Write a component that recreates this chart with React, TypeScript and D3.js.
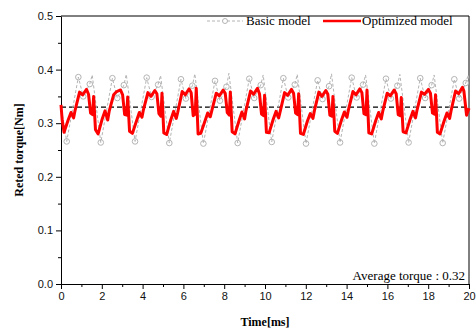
import * as d3 from 'd3';
import * as React from 'react';

// [time ms, torque Nm]
const optimizedModel: [number, number][] = [
  [0.0, 0.334], [0.06, 0.305],
  [0.15, 0.283], [0.35, 0.306], [0.49, 0.32], [0.62, 0.31], [0.69, 0.324], [0.91, 0.358], [1.06, 0.353], [1.25, 0.363], [1.35, 0.354], [1.45, 0.319], [1.55, 0.316], [1.6, 0.35], [1.69, 0.288],
  [1.82, 0.28], [2.02, 0.308], [2.16, 0.323], [2.29, 0.306], [2.36, 0.322], [2.58, 0.353], [2.73, 0.359], [2.92, 0.362], [3.02, 0.353], [3.12, 0.316], [3.22, 0.315], [3.27, 0.349], [3.36, 0.285],
  [3.5, 0.281], [3.7, 0.304], [3.84, 0.32], [3.97, 0.311], [4.04, 0.325], [4.26, 0.357], [4.41, 0.35], [4.6, 0.361], [4.7, 0.355], [4.8, 0.318], [4.9, 0.313], [4.95, 0.356], [5.04, 0.282],
  [5.18, 0.279], [5.38, 0.306], [5.52, 0.322], [5.65, 0.309], [5.72, 0.32], [5.94, 0.359], [6.09, 0.353], [6.28, 0.364], [6.38, 0.357], [6.48, 0.314], [6.58, 0.317], [6.63, 0.365], [6.72, 0.28],
  [6.85, 0.281], [7.05, 0.303], [7.19, 0.319], [7.32, 0.312], [7.39, 0.323], [7.61, 0.356], [7.76, 0.351], [7.95, 0.362], [8.05, 0.356], [8.15, 0.32], [8.25, 0.315], [8.3, 0.358], [8.39, 0.284],
  [8.53, 0.28], [8.73, 0.305], [8.87, 0.321], [9.0, 0.308], [9.07, 0.324], [9.29, 0.36], [9.44, 0.354], [9.63, 0.365], [9.73, 0.355], [9.83, 0.317], [9.93, 0.314], [9.98, 0.352], [10.07, 0.283],
  [10.2, 0.282], [10.4, 0.307], [10.54, 0.322], [10.67, 0.31], [10.74, 0.321], [10.96, 0.357], [11.11, 0.352], [11.3, 0.363], [11.4, 0.356], [11.5, 0.319], [11.6, 0.316], [11.65, 0.355], [11.74, 0.281],
  [11.88, 0.279], [12.08, 0.304], [12.22, 0.318], [12.35, 0.309], [12.42, 0.323], [12.64, 0.358], [12.79, 0.35], [12.98, 0.361], [13.08, 0.354], [13.18, 0.315], [13.28, 0.313], [13.33, 0.35], [13.42, 0.285],
  [13.55, 0.281], [13.75, 0.306], [13.89, 0.321], [14.02, 0.311], [14.09, 0.325], [14.31, 0.359], [14.46, 0.353], [14.65, 0.364], [14.75, 0.357], [14.85, 0.318], [14.95, 0.316], [15.0, 0.362], [15.09, 0.282],
  [15.23, 0.28], [15.43, 0.305], [15.57, 0.32], [15.7, 0.308], [15.77, 0.322], [15.99, 0.356], [16.14, 0.351], [16.33, 0.362], [16.43, 0.355], [16.53, 0.316], [16.63, 0.314], [16.68, 0.348], [16.77, 0.284],
  [16.91, 0.282], [17.11, 0.307], [17.25, 0.322], [17.38, 0.31], [17.45, 0.324], [17.67, 0.358], [17.82, 0.354], [18.01, 0.363], [18.11, 0.356], [18.21, 0.319], [18.31, 0.317], [18.36, 0.353], [18.45, 0.283],
  [18.58, 0.28], [18.78, 0.304], [18.92, 0.319], [19.05, 0.309], [19.12, 0.323], [19.34, 0.36], [19.49, 0.355], [19.68, 0.367], [19.75, 0.36], [19.88, 0.315], [20.0, 0.328],
];

// [time ms, torque Nm, marker]
const basicModel: [number, number, number][] = [
  [0.0, 0.332, 0],
  [0.28, 0.266, 1], [0.85, 0.386, 1], [1.09, 0.35, 1], [1.41, 0.373, 1], [1.53, 0.39, 0],
  [1.95, 0.264, 1], [2.52, 0.384, 1], [2.76, 0.347, 1], [3.08, 0.371, 1], [3.2, 0.391, 0],
  [3.63, 0.266, 1], [4.2, 0.385, 1], [4.44, 0.349, 1], [4.76, 0.372, 1], [4.88, 0.389, 0],
  [5.31, 0.263, 1], [5.88, 0.382, 1], [6.12, 0.346, 1], [6.44, 0.37, 1], [6.56, 0.392, 0],
  [6.98, 0.262, 1], [7.55, 0.379, 1], [7.79, 0.342, 1], [8.11, 0.368, 1], [8.23, 0.393, 0],
  [8.66, 0.263, 1], [9.23, 0.383, 1], [9.47, 0.347, 1], [9.79, 0.371, 1], [9.91, 0.39, 0],
  [10.33, 0.265, 1], [10.9, 0.384, 1], [11.14, 0.348, 1], [11.46, 0.372, 1], [11.58, 0.391, 0],
  [12.01, 0.262, 1], [12.58, 0.38, 1], [12.82, 0.345, 1], [13.14, 0.369, 1], [13.26, 0.392, 0],
  [13.68, 0.264, 1], [14.25, 0.385, 1], [14.49, 0.348, 1], [14.81, 0.372, 1], [14.93, 0.39, 0],
  [15.36, 0.262, 1], [15.93, 0.383, 1], [16.17, 0.346, 1], [16.49, 0.37, 1], [16.61, 0.391, 0],
  [17.04, 0.264, 1], [17.61, 0.384, 1], [17.85, 0.347, 1], [18.17, 0.371, 1], [18.29, 0.39, 0],
  [18.71, 0.263, 1], [19.28, 0.382, 1], [19.52, 0.346, 1], [19.84, 0.375, 1], [19.96, 0.39, 0], [20.0, 0.38, 0],
];

const averageTorque = 0.33;
const averageLabel = 'Average torque : 0.32';
const xTicks = [0, 2, 4, 6, 8, 10, 12, 14, 16, 18, 20];
const yTicks = [0.0, 0.1, 0.2, 0.3, 0.4, 0.5];

const App = () => {
  const ref = React.useRef<SVGSVGElement>(null);

  React.useEffect(() => {
    const W = 476,
      H = 331;
    const margin = { top: 16, right: 7, bottom: 47, left: 61 };
    const width = W - margin.left - margin.right,
      height = H - margin.top - margin.bottom;

    const svg = d3.select(ref.current);
    svg.selectAll('*').remove();
    svg.attr('width', W).attr('height', H);
    svg.append('rect').attr('width', W).attr('height', H).attr('fill', '#fff');

    const g = svg.append('g').attr('transform', `translate(${margin.left},${margin.top})`);

    const x = d3.scaleLinear().domain([0, 20]).range([0, width]);
    const y = d3.scaleLinear().domain([0, 0.5]).range([height, 0]);

    // minor ticks
    g.append('g')
      .attr('transform', `translate(0,${height})`)
      .call(d3.axisBottom(x).tickValues(d3.range(1, 20, 2)).tickSize(3).tickFormat(() => ''))
      .call((a) => a.select('.domain').remove());
    g.append('g')
      .call(d3.axisLeft(y).tickValues(d3.range(0.05, 0.5, 0.1)).tickSize(3).tickFormat(() => ''))
      .call((a) => a.select('.domain').remove());

    const xAxis = g
      .append('g')
      .attr('transform', `translate(0,${height})`)
      .call(d3.axisBottom(x).tickValues(xTicks).tickSize(5).tickSizeOuter(0).tickPadding(3).tickFormat(d3.format('d')));
    xAxis.selectAll('text').style('font-family', 'Liberation Sans, Arial').style('font-size', '11px').attr('fill', '#111');

    const yAxis = g
      .append('g')
      .call(d3.axisLeft(y).tickValues(yTicks).tickSize(5).tickSizeOuter(0).tickPadding(3).tickFormat(d3.format('.1f')));
    yAxis.selectAll('text').style('font-family', 'Liberation Sans, Arial').style('font-size', '11px').attr('fill', '#111');
    g.selectAll('.domain, .tick line').attr('stroke', '#000');

    // frame
    g.append('path')
      .attr('d', `M0,0H${width}V${height}`)
      .attr('fill', 'none')
      .attr('stroke', '#000')
      .attr('stroke-width', 1);

    // average line
    g.append('line')
      .attr('x1', 0)
      .attr('x2', width)
      .attr('y1', y(averageTorque))
      .attr('y2', y(averageTorque))
      .attr('stroke', '#000')
      .attr('stroke-width', 1.2)
      .attr('stroke-dasharray', '5,3');

    const line = d3
      .line<any>()
      .x((d) => x(d[0]))
      .y((d) => y(d[1]));

    g.append('path')
      .datum(basicModel)
      .attr('d', line)
      .attr('fill', 'none')
      .attr('stroke', '#b4b4b4')
      .attr('stroke-width', 1)
      .attr('stroke-dasharray', '3,2');

    g.selectAll('.mk')
      .data(basicModel.filter((d) => d[2] === 1))
      .enter()
      .append('circle')
      .attr('cx', (d) => x(d[0]))
      .attr('cy', (d) => y(d[1]))
      .attr('r', 2.8)
      .attr('fill', 'none')
      .attr('stroke', '#b4b4b4')
      .attr('stroke-width', 1);

    g.append('path')
      .datum(optimizedModel)
      .attr('d', line)
      .attr('fill', 'none')
      .attr('stroke', '#ff0000')
      .attr('stroke-width', 3)
      .attr('stroke-linejoin', 'round');

    // legend
    const lg = svg.append('g').style('font-family', 'Liberation Serif, Times New Roman').style('font-size', '13px');
    lg.append('line').attr('x1', 207).attr('x2', 243).attr('y1', 21).attr('y2', 21).attr('stroke', '#b4b4b4').attr('stroke-dasharray', '3,2');
    lg.append('circle').attr('cx', 225).attr('cy', 21).attr('r', 2.5).attr('fill', '#fff').attr('stroke', '#b4b4b4');
    lg.append('text').attr('x', 246).attr('y', 25).text('Basic model');
    lg.append('line').attr('x1', 323).attr('x2', 361).attr('y1', 21).attr('y2', 21).attr('stroke', '#ff0000').attr('stroke-width', 2.5);
    lg.append('text').attr('x', 362).attr('y', 25).text('Optimized model');

    svg
      .append('text')
      .attr('x', margin.left + width - 4)
      .attr('y', margin.top + height - 4)
      .attr('text-anchor', 'end')
      .style('font-family', 'Liberation Serif, Times New Roman')
      .style('font-size', '13px')
      .text(averageLabel);

    // axis titles
    svg
      .append('text')
      .attr('x', margin.left + width / 2)
      .attr('y', 326)
      .attr('text-anchor', 'middle')
      .style('font-family', 'Liberation Serif, Times New Roman')
      .style('font-size', '12px')
      .style('font-weight', 'bold')
      .text('Time[ms]');
    svg
      .append('text')
      .attr('transform', `translate(23,${margin.top + height / 2}) rotate(-90)`)
      .attr('text-anchor', 'middle')
      .style('font-family', 'Liberation Serif, Times New Roman')
      .style('font-size', '12px')
      .style('font-weight', 'bold')
      .text('Reted torque[Nm]');
  }, []);

  return <svg ref={ref} style={{ position: 'absolute', left: 0, top: 0 }} />;
};

export default App;
